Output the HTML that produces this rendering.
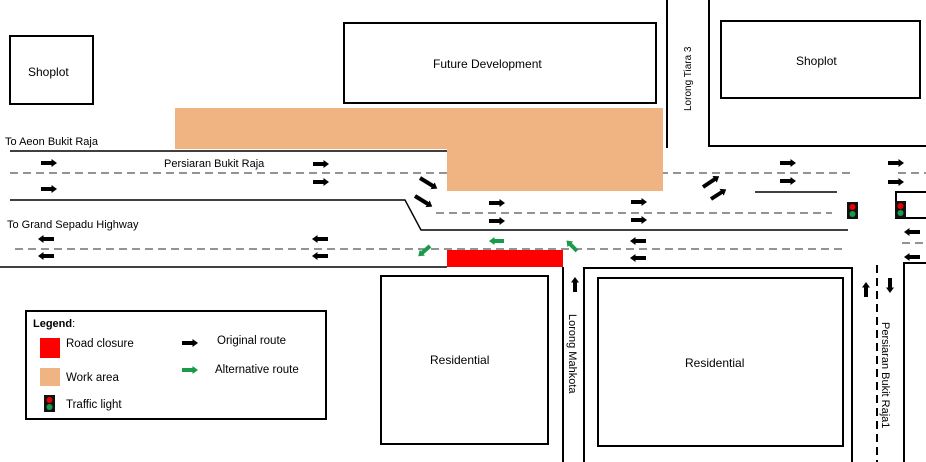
<!DOCTYPE html>
<html><head><meta charset="utf-8"><style>
html,body{margin:0;padding:0;background:#fff}
svg{display:block;font-family:"Liberation Sans","DejaVu Sans",sans-serif}
</style></head><body>
<svg width="926" height="462" viewBox="0 0 926 462" xmlns="http://www.w3.org/2000/svg">
<defs>
<marker id="ab" markerWidth="6" markerHeight="8" refX="0.5" refY="4" orient="auto" markerUnits="userSpaceOnUse"><path d="M0,0 L5.5,4 L0,8 Z" fill="#000"/></marker>
<marker id="ag" markerWidth="6" markerHeight="8" refX="0.5" refY="4" orient="auto" markerUnits="userSpaceOnUse"><path d="M0,0 L5.5,4 L0,8 Z" fill="#1a9a4a"/></marker>
</defs>
<g fill="none" stroke="#000" stroke-width="2">
<rect x="10" y="36" width="83" height="68"/>
<rect x="344" y="23" width="312" height="80"/>
<rect x="721" y="21" width="199" height="77"/>
<line x1="667" y1="0" x2="667" y2="148"/>
<polyline points="709,0 709,146 926,146"/>
<rect x="381" y="276" width="167" height="168"/>
<rect x="598" y="278" width="245" height="168"/>
<polyline points="584,462 584,268 852,268 852,462"/>
<line x1="563" y1="267" x2="563" y2="462"/>
<polyline points="904,462 904,263 926,263"/>
<polyline points="926,192 896,192 896,218 926,218"/>
<rect x="26" y="311" width="300" height="108"/>
</g>
<g stroke="#000" stroke-width="1.4" fill="none">
<line x1="10" y1="151" x2="447" y2="151"/>
<polyline points="10,200 405,200 421,230 848,230"/>
<line x1="0" y1="267" x2="447" y2="267"/>
<line x1="755" y1="192" x2="837" y2="192"/>
</g>
<g stroke="#555" stroke-width="1.3" fill="none" stroke-dasharray="8,5">
<line x1="10" y1="173" x2="852" y2="173"/>
<line x1="898" y1="173" x2="926" y2="173"/>
<line x1="436" y1="213" x2="832" y2="213"/>
<line x1="15" y1="249" x2="843" y2="249"/>
<line x1="902" y1="243" x2="926" y2="243"/>
<line x1="877" y1="265" x2="877" y2="462" stroke="#000" stroke-width="2"/>
</g>
<rect x="175" y="108" width="488" height="41" fill="#f0b482"/>
<rect x="447" y="149" width="216" height="42" fill="#f0b482"/>
<rect x="447" y="250" width="116" height="17" fill="#ff0000"/>
<g><rect x="847" y="202" width="11" height="17" fill="#111"/><circle cx="852.5" cy="207" r="3" fill="#e00"/><circle cx="852.5" cy="214" r="3" fill="#1a9a4a"/></g>
<g><rect x="895" y="201" width="11" height="17" fill="#111"/><circle cx="900.5" cy="206" r="3" fill="#e00"/><circle cx="900.5" cy="213" r="3" fill="#1a9a4a"/></g>
<g><rect x="44" y="395" width="11" height="17" fill="#111"/><circle cx="49.5" cy="400" r="3" fill="#e00"/><circle cx="49.5" cy="407" r="3" fill="#1a9a4a"/></g>
<g stroke="#000" stroke-width="4" marker-end="url(#ab)">
<line x1="41" y1="163" x2="52" y2="163"/><line x1="41" y1="189" x2="52" y2="189"/>
<line x1="313" y1="164" x2="324" y2="164"/><line x1="313" y1="182" x2="324" y2="182"/>
<line x1="489" y1="203" x2="500" y2="203"/><line x1="489" y1="221" x2="500" y2="221"/>
<line x1="631" y1="202" x2="642" y2="202"/><line x1="631" y1="220" x2="642" y2="220"/>
<line x1="780" y1="163" x2="791" y2="163"/><line x1="780" y1="181" x2="791" y2="181"/>
<line x1="888" y1="163" x2="899" y2="163"/><line x1="888" y1="182" x2="899" y2="182"/>
<line x1="54" y1="239" x2="43" y2="239"/><line x1="54" y1="256" x2="43" y2="256"/>
<line x1="328" y1="239" x2="317" y2="239"/><line x1="328" y1="256" x2="317" y2="256"/>
<line x1="646" y1="241" x2="635" y2="241"/><line x1="646" y1="258" x2="635" y2="258"/>
<line x1="920" y1="232" x2="909" y2="232"/><line x1="920" y1="257" x2="909" y2="257"/>
<line x1="420" y1="178" x2="433" y2="186"/><line x1="415" y1="196" x2="428" y2="204"/>
<line x1="703" y1="187" x2="715" y2="179"/><line x1="711" y1="199" x2="722" y2="192"/>
<line x1="575" y1="292" x2="575" y2="282"/><line x1="866" y1="297" x2="866" y2="287"/>
<line x1="890" y1="278" x2="890" y2="288"/>
<line x1="182" y1="343" x2="193" y2="343"/>
</g>
<g stroke="#1a9a4a" stroke-width="4" marker-end="url(#ag)">
<line x1="430" y1="246" x2="422" y2="253"/>
<line x1="504" y1="241" x2="494" y2="241"/>
<line x1="577" y1="251" x2="570" y2="244"/>
<line x1="182" y1="370" x2="193" y2="370"/>
</g>
<rect x="40" y="338" width="20" height="20" fill="#ff0000"/>
<rect x="40" y="368" width="20" height="18" fill="#f0b482"/>
<g font-size="12" fill="#000">
<text x="28" y="76">Shoplot</text>
<text x="433" y="68">Future Development</text>
<text x="796" y="65">Shoplot</text>
<text x="5" y="145" font-size="11">To Aeon  Bukit Raja</text>
<text x="164" y="167" font-size="11">Persiaran Bukit Raja</text>
<text x="7" y="228" font-size="11">To Grand Sepadu Highway</text>
<text x="430" y="364">Residential</text>
<text x="685" y="367">Residential</text>
<text transform="translate(691,111) rotate(-90)" font-size="10">Lorong Tiara 3</text>
<text transform="translate(569,314) rotate(90)" font-size="11">Lorong Mahkota</text>
<text transform="translate(882,322) rotate(90)" font-size="11">Persiaran Bukit Raja1</text>
<text x="33" y="327" font-size="11" font-weight="bold">Legend<tspan font-weight="normal">:</tspan></text>
<text x="66" y="347" font-size="11.5">Road closure</text>
<text x="66" y="381" font-size="11.5">Work area</text>
<text x="66" y="408" font-size="11.5">Traffic light</text>
<text x="217" y="344" font-size="11.5">Original route</text>
<text x="215" y="373" font-size="11.5">Alternative route</text>
</g>
</svg>
</body></html>
